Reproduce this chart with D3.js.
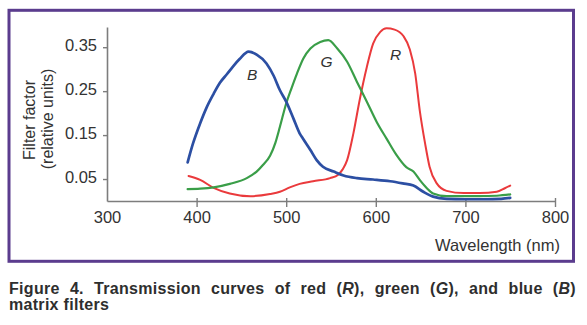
<!DOCTYPE html>
<html>
<head>
<meta charset="utf-8">
<script src="https://cdn.jsdelivr.net/npm/d3@7"></script>
<style>
  html, body { margin: 0; padding: 0; background: #fff; }
  svg { display: block; font-family: "Liberation Sans", Arial, sans-serif; }
</style>
</head>
<body>
<svg id="chart" width="587" height="325"></svg>
<script>
// ---- data ----
const xTicks = [300, 400, 500, 600, 700, 800];
const yTicks = [0.05, 0.15, 0.25, 0.35];

const blueNm = [390,396,404,411,419,426,434,441,448,458,467,478,486,493,500,508,515,519,527,534,541,553,564,579,597,616,630,642,653,664,679,700,720,740,750];
const blueVal = [.088,.131,.177,.212,.244,.269,.289,.307,.323,.340,.333,.313,.285,.252,.226,.188,.154,.141,.116,.093,.078,.067,.058,.052,.049,.045,.040,.035,.021,.010,.005,.004,.004,.005,.007];

const greenNm = [390,404,419,437,456,467,474,482,488,493,500,506,512,519,527,538,547,557,568,579,590,601,612,623,634,642,649,657,664,679,700,716,735,750];
const greenVal = [.027,.028,.031,.039,.052,.067,.082,.103,.133,.169,.222,.257,.290,.324,.347,.362,.366,.347,.317,.271,.226,.180,.142,.105,.077,.067,.048,.029,.017,.011,.011,.011,.012,.015];

const redNm = [391,404,419,437,460,482,493,504,515,530,549,558,563,568,575,582,590,597,605,612,621,631,638,644,649,655,660,668,679,698,716,735,744,750];
const redVal = [.057,.048,.030,.017,.011,.016,.021,.031,.039,.045,.052,.060,.072,.093,.154,.230,.305,.358,.385,.393,.390,.375,.345,.290,.207,.131,.078,.040,.023,.018,.018,.021,.029,.035];

const seriesNames = ["B", "G", "R"];
const seriesColors = ["#2c4fa3", "#3a9e48", "#ea3a3c"];
const labelNm = [462, 545, 622];
const labelVal = [0.275, 0.305, 0.322];

// ---- drawing ----
const svg = d3.select("#chart");

// frame
svg.append("rect")
  .attr("x", 9).attr("y", 10.3).attr("width", 564.5).attr("height", 251)
  .attr("fill", "none").attr("stroke", "#5b3c8e").attr("stroke-width", 3);

const x = d3.scaleLinear().domain([300, 800]).range([107, 555]);
const y = d3.scaleLinear().domain([0, 0.396]).range([201, 27]);

const axisColor = "#7d7d7d";
const textColor = "#333";

// y axis
const yAxis = svg.append("g").attr("transform", "translate(107,0)")
  .call(d3.axisLeft(y).tickValues(yTicks).tickFormat(d3.format(".2f"))
    .tickSizeInner(4).tickSizeOuter(0).tickPadding(6));
yAxis.select(".domain").attr("stroke", axisColor).attr("stroke-width", 1.6);
yAxis.selectAll(".tick line").attr("stroke", axisColor).attr("stroke-width", 1.4);
yAxis.selectAll(".tick text").attr("fill", textColor).attr("font-size", 16.5)
  .attr("font-family", "'Liberation Sans', Arial, sans-serif").attr("dy", "0.2em");

// x axis
const xAxis = svg.append("g").attr("transform", "translate(0,201)")
  .call(d3.axisBottom(x).tickValues(xTicks).tickSizeInner(6).tickSizeOuter(0).tickPadding(4));
xAxis.select(".domain").attr("stroke", axisColor).attr("stroke-width", 1.6);
xAxis.selectAll(".tick line").attr("stroke", axisColor).attr("stroke-width", 1.4).attr("y1", -3);
xAxis.selectAll(".tick").filter(d => d === 300).select("line").remove();
xAxis.selectAll(".tick text").attr("fill", textColor).attr("font-size", 16.5)
  .attr("font-family", "'Liberation Sans', Arial, sans-serif");

// axis titles
svg.append("text")
  .attr("transform", "translate(35,120) rotate(-90)")
  .attr("text-anchor", "middle").attr("font-size", 16).attr("fill", textColor)
  .text("Filter factor");
svg.append("text")
  .attr("transform", "translate(53,119) rotate(-90)")
  .attr("text-anchor", "middle").attr("font-size", 16).attr("fill", textColor)
  .text("(relative units)");
svg.append("text")
  .attr("x", 560).attr("y", 251)
  .attr("text-anchor", "end").attr("font-size", 16.5).attr("fill", textColor)
  .text("Wavelength (nm)");

// curves
const line = d3.line().x(d => x(d[0])).y(d => y(d[1])).curve(d3.curveMonotoneX);
const series = [
  { nm: redNm, val: redVal, color: seriesColors[2], w: 2.0 },
  { nm: greenNm, val: greenVal, color: seriesColors[1], w: 2.2 },
  { nm: blueNm, val: blueVal, color: seriesColors[0], w: 2.7 }
];
series.forEach(s => {
  const pts = s.nm.map((n, i) => [n, s.val[i]]);
  svg.append("path").datum(pts)
    .attr("d", line)
    .attr("fill", "none")
    .attr("stroke", s.color)
    .attr("stroke-width", s.w)
    .attr("stroke-linejoin", "round")
    .attr("stroke-linecap", "round");
});

// curve labels
seriesNames.forEach((n, i) => {
  svg.append("text")
    .attr("x", x(labelNm[i])).attr("y", y(labelVal[i]))
    .attr("text-anchor", "middle")
    .attr("font-size", 15.5).attr("font-style", "italic").attr("fill", textColor)
    .text(n);
});

// caption (first line justified by widening word gaps)
const cap1 = svg.append("text")
  .attr("x", 9).attr("y", 294)
  .attr("font-size", 16).attr("font-weight", "bold").attr("fill", "#2e2e2e")
  .attr("letter-spacing", "0.3px");
const parts = [
  ["Figure 4. Transmission curves of red (", false], ["R", true], ["), green (", false],
  ["G", true], ["), and blue (", false], ["B", true], [")", false]
];
parts.forEach(p => {
  cap1.append("tspan").attr("font-style", p[1] ? "italic" : "normal").text(p[0]);
});
const natural = cap1.node().getComputedTextLength();
const gaps = 11;
cap1.attr("word-spacing", Math.max(0, (567 - natural) / gaps) + "px");
svg.append("text")
  .attr("x", 9).attr("y", 310)
  .attr("font-size", 16).attr("font-weight", "bold").attr("fill", "#2e2e2e")
  .attr("letter-spacing", "0.3px")
  .text("matrix filters");
</script>
</body>
</html>
